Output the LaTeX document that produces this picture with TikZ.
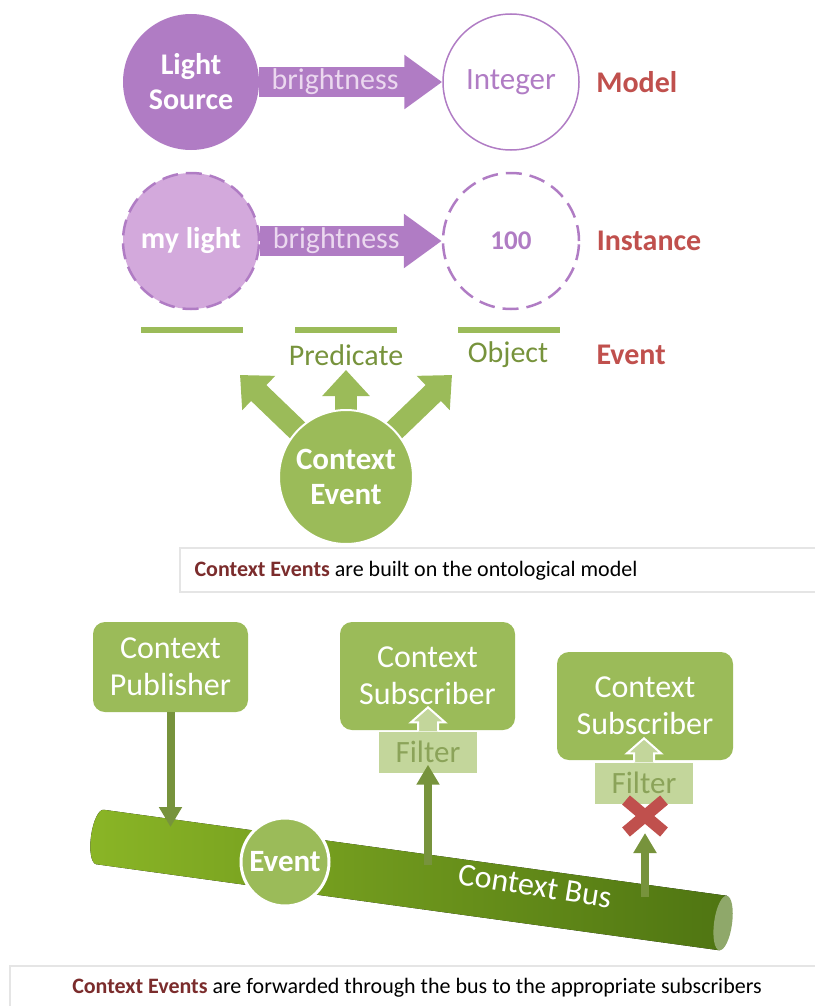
\documentclass[tikz,border=0pt]{standalone}
\usepackage{fontspec}
\setmainfont{Carlito}
\usetikzlibrary{positioning, arrows.meta, shapes}

\definecolor{lilac}{HTML}{B07CC4}
\definecolor{lilaclight}{HTML}{D3A9DC}
\definecolor{leaf}{HTML}{9BBB59}
\definecolor{leafpale}{HTML}{C3D69B}
\definecolor{olive}{HTML}{77933C}
\definecolor{brick}{HTML}{C0504D}
\definecolor{maroon}{HTML}{7B2C2C}
\definecolor{busleft}{HTML}{8AB526}
\definecolor{busright}{HTML}{4F7512}
\definecolor{busface}{HTML}{8FA86A}

\tikzstyle{classnode} = [circle, minimum size=136pt, inner sep=0pt, align=center, font=\fontsize{30}{35}\selectfont\bfseries]
\tikzstyle{rowlabel} = [anchor=west, text=brick, font=\fontsize{30}{34}\selectfont\bfseries]
\tikzstyle{proparrow} = [draw=lilac, line width=30pt, -{Triangle[length=38pt,width=52pt]}]
\tikzstyle{proptext} = [text=lilaclight!45!white, font=\fontsize{30}{34}\selectfont]
\tikzstyle{slotbar} = [draw=leaf, line width=6pt]
\tikzstyle{slottext} = [text=olive, font=\fontsize{30}{34}\selectfont]
\tikzstyle{fatarrow} = [draw=leaf, line width=22pt, -{Triangle[length=26pt,width=46pt]}]
\tikzstyle{caption} = [draw=gray!20, line width=1.5pt, fill=white]
\tikzstyle{captext} = [font=\fontsize{22}{26}\selectfont]
\tikzstyle{busbox} = [fill=leaf, rounded corners=12pt, text=white, align=center, inner sep=0pt, font=\fontsize{32}{37}\selectfont]
\tikzstyle{filterbox} = [fill=leafpale, text=olive!85!white, inner sep=0pt, font=\fontsize{31}{34}\selectfont]
\tikzstyle{hollowup} = [fill=leafpale, draw=white, line width=2pt, line join=miter]
\tikzstyle{flow} = [draw=olive, line width=8pt, -{Triangle[length=20pt,width=22pt]}]
\tikzstyle{xmark} = [draw=brick, line width=12pt]

\begin{document}
\begin{tikzpicture}[x=1pt, y=-1pt]
  \useasboundingbox (0,0) rectangle (814,1006);

  % model row
  \node[classnode, fill=lilac, text=white] (ls) at (191,82) {Light\\Source};
  \node[classnode, draw=lilac, line width=1.5pt, text=lilac, font=\fontsize{31}{34}\selectfont] (int) at (511,82) {Integer};
  \draw[proparrow] (ls) -- (int);
  \node[proptext, right=9pt of ls] {brightness};
  \node[rowlabel, right=13pt of int] {Model};

  % instance row
  \node[classnode, fill=lilaclight, draw=lilac, line width=2.5pt, dash pattern=on 16pt off 8pt, text=white] (ml) at (191,241) {my light};
  \node[classnode, draw=lilac, line width=2.5pt, dash pattern=on 16pt off 8pt, text=lilac, font=\fontsize{27}{30}\selectfont\bfseries] (val) at (511,241) {100};
  \draw[proparrow] (ml) -- (val);
  \node[proptext, right=9pt of ml] {brightness};
  \node[rowlabel, right=13pt of val] {Instance};

  % event row
  \draw[slotbar] (141,330) -- (243,330);
  \draw[slotbar] (295,330) -- (397,330);
  \draw[slotbar] (458,330) -- (560,330);
  \node[slottext] (pred) at (346,355) {Predicate};
  \node[slottext] (obj) at (508,355) {Object};
  \node[rowlabel] (evlabel) at (593,355) {Event};

  \coordinate (ctr) at (346,477);
  \coordinate (tipl) at (240,375);
  \coordinate (tipm) at (346,370);
  \coordinate (tipr) at (452,375);
  \draw[fatarrow] (ctr) -- (tipl);
  \draw[fatarrow] (ctr) -- (tipm);
  \draw[fatarrow] (ctr) -- (tipr);
  \node[circle, fill=leaf, draw=white, line width=2pt, minimum size=134pt, inner sep=0pt, text=white, align=center, font=\fontsize{31}{35}\selectfont\bfseries] (ce) at (ctr) {Context\\Event};

  \draw[caption] (180,548) rectangle (830,592);
  \node[captext] (cap1) at (416,571) {\textcolor{maroon}{\bfseries Context Events} are built on the ontological model};

  % bus
  \begin{scope}[shift={(100,837)}, rotate=-7.86]
    \fill[left color=busleft, right color=busright] (0,-27.5) -- (629,-27.5) -- (629,27.5) -- (0,27.5) arc[start angle=90, end angle=270, x radius=9, y radius=27.5] -- cycle;
    \fill[busface] (629,0) ellipse[x radius=9, y radius=27.5];
  \end{scope}
  \node[text=white, rotate=-9, font=\fontsize{32}{36}\selectfont] (busname) at (535,886) {Context Bus};
  \node[circle, fill=leaf, draw=white, line width=3pt, minimum size=88pt, inner sep=0pt, text=white, font=\fontsize{31}{34}\selectfont\bfseries] (ev) at (285,862) {Event};

  % publisher and subscribers
  \node[busbox, minimum width=155pt, minimum height=90pt] (pub) at (170.5,667) {Context\\Publisher};
  \node[busbox, minimum width=175pt, minimum height=108pt] (sub1) at (427.5,676) {Context\\Subscriber};
  \node[busbox, minimum width=176pt, minimum height=108pt] (sub2) at (645,706) {Context\\Subscriber};
  \node[filterbox, minimum width=98pt, minimum height=41pt] (flt1) at (428,752) {Filter};
  \node[filterbox, minimum width=98pt, minimum height=41pt] (flt2) at (644,783) {Filter};
  \filldraw[hollowup] (flt1.north) ++(-10,0) -- ++(0,-9) -- ++(-7,0) -- ++(17,-15) -- ++(17,15) -- ++(-7,0) -- ++(0,9);
  \filldraw[hollowup] (flt2.north) ++(-10,0) -- ++(0,-9) -- ++(-7,0) -- ++(17,-15) -- ++(17,15) -- ++(-7,0) -- ++(0,9);

  \coordinate (drop) at (170.5,827);
  \coordinate (tap1) at (428,865);
  \coordinate (tap2) at (645,897);
  \coordinate (block) at (645,816);
  \draw[flow] (pub.south) -- (drop);
  \draw[flow] (tap1) -- ([yshift=8pt]flt1.south);
  \draw[xmark] (block) +(-19,-16) -- +(19,16) (block) +(-19,16) -- +(19,-16);
  \draw[flow] (tap2) -- ([yshift=-17pt]block);

  \draw[caption] (10,966) rectangle (830,1012);
  \node[captext] (cap2) at (417,988) {\textcolor{maroon}{\bfseries Context Events} are forwarded through the bus to the appropriate subscribers};
\end{tikzpicture}
\end{document}
